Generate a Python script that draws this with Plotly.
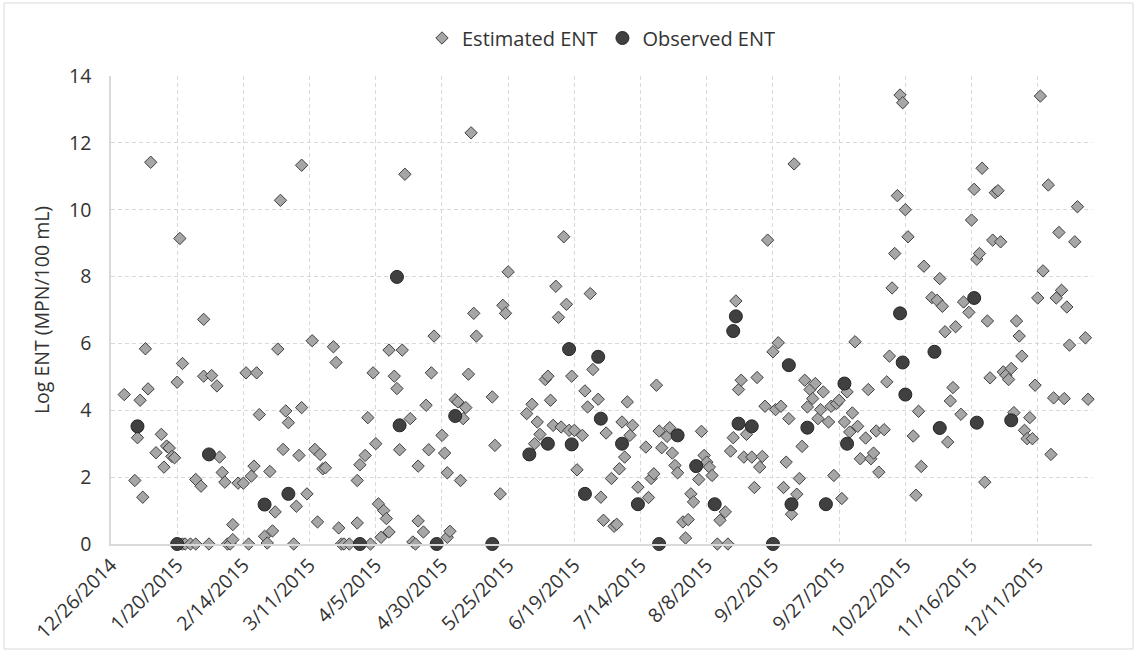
import numpy as np
import pandas as pd
import plotly.graph_objects as go

# ---- data: day of year 2015 (1 = Jan 1; 0 = Dec 31, 2014) and Log ENT values ----
est_doy = [0, 4, 5, 6, 7, 8, 9, 10, 12, 14, 15, 16, 17, 18, 19, 20, 21, 22, 22, 23, 25, 27, 27, 29, 30, 30,
           32, 33, 35, 36, 37, 38, 39, 40, 41, 41, 43, 45, 46, 47, 48, 49, 50, 51, 53, 54, 55, 56, 57, 58, 59,
           60, 61, 62, 64, 65, 66, 67, 67, 69, 71, 72, 73, 74, 75, 76, 79, 80, 81, 82, 83, 85, 88, 89, 88, 91,
           92, 93, 94, 95, 96, 97, 98, 99, 100, 100, 102, 103, 104, 105, 106, 108, 109, 110, 111, 111, 113, 114,
           115, 116, 117, 120, 121, 122, 122, 123, 125, 126, 127, 128, 129, 130, 131, 132, 133, 139, 140, 142,
           143, 144, 145, 152, 154, 155, 156, 157, 159, 160, 161, 162, 163, 164, 165, 166, 167, 168, 169, 170,
           171, 173, 174, 175, 176, 177, 179, 180, 181, 182, 184, 185, 186, 187, 188, 189, 190, 191, 192, 194,
           197, 198, 199, 200, 201, 202, 203, 205, 206, 207, 208, 209, 211, 212, 213, 214, 215, 217, 218, 219,
           220, 221, 222, 224, 225, 227, 228, 229, 230, 231, 232, 233, 234, 235, 237, 238, 239, 240, 241, 242,
           243, 245, 246, 247, 248, 249, 250, 251, 252, 253, 254, 255, 256, 257, 258, 259, 260, 261, 262, 263,
           264, 266, 267, 268, 269, 270, 271, 272, 273, 274, 275, 276, 277, 278, 280, 281, 282, 283, 284, 285,
           287, 288, 289, 290, 291, 292, 293, 294, 295, 296, 298, 299, 300, 301, 302, 305, 307, 308, 309, 310,
           311, 312, 313, 314, 316, 317, 319, 320, 321, 322, 323, 324, 325, 326, 327, 328, 329, 330, 331, 332,
           333, 334, 335, 336, 337, 338, 339, 340, 341, 342, 343, 344, 345, 346, 347, 349, 350, 351, 352, 353,
           354, 355, 356, 357, 359, 360, 363, 364]
est_val = [4.47, 1.9, 3.18, 4.3, 1.4, 5.84, 4.64, 11.42, 2.73, 3.28, 2.3, 2.93, 2.87, 2.62, 2.58, 4.84, 9.14, 0,
           5.4, 0, 0, 0, 1.93, 1.73, 6.72, 5.02, 0, 5.04, 4.73, 2.6, 2.14, 1.85, 0, 0, 0.58, 0.13, 1.82, 1.82,
           5.12, 0, 2.03, 2.33, 5.12, 3.87, 0.23, 0.03, 2.17, 0.39, 0.96, 5.83, 10.28, 2.83, 3.98, 3.63, 0,
           1.13, 2.65, 4.08, 11.33, 1.5, 6.08, 2.83, 0.66, 2.68, 2.25, 2.28, 5.9, 5.43, 0.48, 0, 0, 0, 1.9,
           2.37, 0.63, 2.65, 3.78, 0, 5.12, 3.0, 1.2, 0.2, 1.0, 0.76, 0.36, 5.8, 5.02, 4.65, 2.82, 5.8, 11.06,
           3.75, 0.06, 0, 2.33, 0.69, 0.36, 4.15, 2.82, 5.12, 6.22, 3.25, 2.72, 2.13, 0.2, 0.38, 4.32, 4.25,
           1.9, 3.75, 4.08, 5.08, 12.3, 6.9, 6.22, 4.4, 2.95, 1.5, 7.14, 6.9, 8.14, 3.9, 4.18, 3.0, 3.65, 3.28,
           4.92, 5.02, 4.3, 3.55, 7.71, 6.78, 3.5, 9.19, 7.17, 3.4, 5.02, 3.4, 2.22, 3.25, 4.58, 4.1, 7.49,
           5.22, 4.33, 1.4, 0.71, 3.32, 1.96, 0.53, 0.59, 2.25, 3.65, 2.6, 4.25, 3.25, 3.55, 1.7, 2.9, 1.39,
           1.96, 2.1, 4.75, 3.38, 2.88, 3.22, 3.48, 2.72, 2.35, 2.13, 0.66, 0.18, 0.73, 1.5, 1.26, 1.93, 3.37,
           2.65, 2.45, 2.3, 2.05, 0, 0.71, 0.96, 0, 2.78, 3.18, 7.27, 4.62, 4.9, 2.6, 3.28, 2.6, 1.69, 4.98,
           2.3, 2.62, 4.12, 9.09, 5.75, 4.02, 6.02, 4.12, 1.69, 2.45, 3.75, 0.89, 11.37, 1.49, 1.96, 2.92, 4.9,
           4.1, 4.62, 4.35, 4.8, 3.75, 4.02, 4.55, 3.65, 4.12, 2.05, 4.2, 4.3, 1.36, 3.65, 4.55, 3.35, 3.92,
           6.05, 3.52, 2.55, 3.17, 4.62, 2.55, 2.72, 3.38, 2.15, 3.42, 4.85, 5.62, 7.66, 8.69, 10.42, 13.43,
           13.2, 10.0, 9.19, 3.23, 1.46, 3.97, 2.32, 8.31, 7.37, 7.29, 7.94, 7.11, 6.35, 3.05, 4.28, 4.68, 6.5,
           3.88, 7.24, 6.93, 9.69, 10.61, 8.52, 8.69, 11.24, 1.85, 6.67, 4.97, 9.09, 10.51, 10.57, 9.04, 5.15,
           5.05, 4.92, 5.25, 3.93, 6.67, 6.22, 5.62, 3.4, 3.15, 3.78, 3.15, 4.75, 7.36, 13.4, 8.17, 10.74,
           2.68, 4.37, 7.36, 9.32, 7.59, 4.35, 7.09, 5.95, 9.04, 10.09, 6.17, 4.33]

obs_doy = [5, 20, 32, 53, 62, 89, 103, 104, 118, 125, 139, 153, 160, 168, 169, 174, 179, 180, 188, 194, 202,
           209, 216, 223, 230, 231, 232, 237, 245, 251, 252, 258, 265, 272, 273, 293, 294, 295, 306, 308,
           321, 322, 335]
obs_val = [3.52, 0, 2.68, 1.18, 1.5, 0, 7.99, 3.55, 0, 3.83, 0, 2.68, 3.0, 5.83, 2.98, 1.5, 5.6, 3.75, 3.0,
           1.19, 0, 3.25, 2.33, 1.19, 6.37, 6.81, 3.6, 3.52, 0, 5.35, 1.19, 3.48, 1.19, 4.8, 3.0, 6.9, 5.43,
           4.47, 5.75, 3.47, 7.36, 3.63, 3.7]

x_start = "2014-12-26"
x_end = "2015-12-31 12:00"
tick_step_days = 25
n_ticks = 15
y_ticks = [0, 2, 4, 6, 8, 10, 12, 14]

# ---- build ----
base = pd.Timestamp("2015-01-01")
est_dates = base + pd.to_timedelta(np.array(est_doy) - 1, unit="D")
obs_dates = base + pd.to_timedelta(np.array(obs_doy) - 1, unit="D")
tick_dates = pd.date_range(x_start, periods=n_ticks, freq=f"{tick_step_days}D")
tick_text = [f"{d.month}/{d.day}/{d.year}" for d in tick_dates]

FONT = "Open Sans"
TXT = "#333333"
GRID = "#d9d9d9"

fig = go.Figure()
fig.add_trace(go.Scatter(
    x=est_dates, y=est_val, mode="markers", name="Estimated ENT", cliponaxis=False,
    marker=dict(symbol="diamond", size=9.5, color="#a6a6a6", line=dict(color="#404040", width=1)),
))
fig.add_trace(go.Scatter(
    x=obs_dates, y=obs_val, mode="markers", name="Observed ENT", cliponaxis=False,
    marker=dict(symbol="circle", size=13, color="#404040", line=dict(color="#262626", width=1)),
))

W, H = 1135, 651
ml, mr, mt, mb = 111, 43, 76, 107
pw, ph = W - ml - mr, H - mt - mb

fig.update_layout(
    width=W, height=H,
    margin=dict(l=ml, r=mr, t=mt, b=mb, autoexpand=False),
    paper_bgcolor="white", plot_bgcolor="white",
    font=dict(family=FONT, color=TXT),
    showlegend=True,
    legend=dict(orientation="h", x=0.5, xanchor="center", y=(H - mb - 38) / ph, yanchor="middle",
                font=dict(size=20, family=FONT, color=TXT), bgcolor="rgba(0,0,0,0)",
                itemwidth=30, tracegroupgap=0),
    xaxis=dict(
        type="date", range=[x_start, x_end],
        tickmode="array", tickvals=tick_dates, ticktext=tick_text, tickangle=-45,
        tickfont=dict(size=19.5, family=FONT, color=TXT),
        showgrid=True, gridcolor=GRID, griddash="4px,3px", gridwidth=1,
        showline=True, linecolor=GRID, linewidth=2, zeroline=False, ticks="",
    ),
    yaxis=dict(
        range=[0, 14], tickmode="array", tickvals=y_ticks,
        tickfont=dict(size=19.5, family=FONT, color=TXT),
        showgrid=True, gridcolor=GRID, griddash="4px,3px", gridwidth=1,
        showline=True, linecolor=GRID, linewidth=1.5, zeroline=False, ticks="",
        ticklabelstandoff=14,
        title=dict(text="Log ENT (MPN/100 mL)", font=dict(size=19.5, family=FONT, color=TXT), standoff=14),
    ),
    shapes=[dict(type="rect", xref="paper", yref="paper",
                 x0=(4 - ml) / pw, x1=(W - 2 - ml) / pw,
                 y0=(H - mb - (H - 2)) / ph, y1=(H - mb - 3) / ph,
                 line=dict(color=GRID, width=1), fillcolor="rgba(0,0,0,0)", layer="below")],
)

fig.write_html("out.html")
